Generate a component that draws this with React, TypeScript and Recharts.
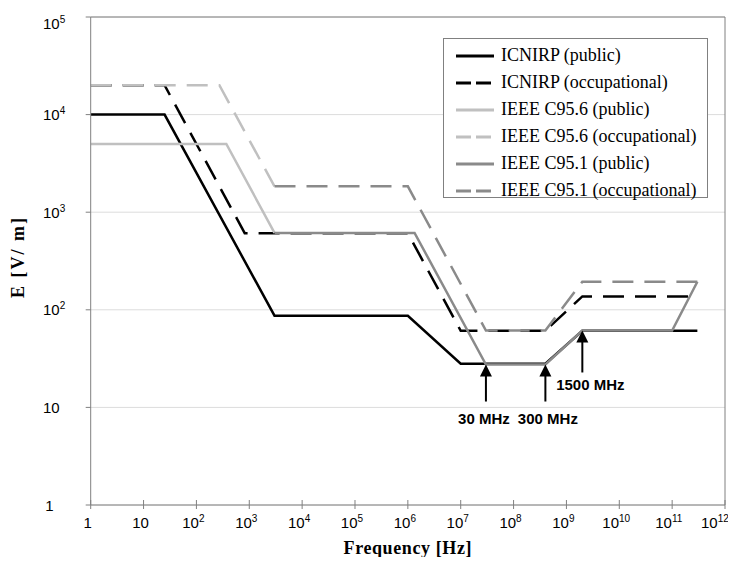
import React from 'react';
import {
  LineChart,
  Line,
  XAxis,
  YAxis,
  CartesianGrid,
  ReferenceLine,
  ReferenceDot,
  Legend,
} from 'recharts';

// ---- data (frequency in Hz, field strength E in V/m) ----
const ICNIRP_PUBLIC = [
  { f: 1, e: 10000 },
  { f: 25, e: 10000 },
  { f: 3000, e: 87 },
  { f: 1e6, e: 87 },
  { f: 1e7, e: 28 },
  { f: 4e8, e: 28 },
  { f: 2e9, e: 61 },
  { f: 3e11, e: 61 },
];
const ICNIRP_OCC = [
  { f: 1, e: 20000 },
  { f: 25, e: 20000 },
  { f: 820, e: 610 },
  { f: 1e6, e: 610 },
  { f: 1e7, e: 61 },
  { f: 4e8, e: 61 },
  { f: 2e9, e: 137 },
  { f: 3e11, e: 137 },
];
const C956_PUBLIC = [
  { f: 1, e: 5000 },
  { f: 368, e: 5000 },
  { f: 3000, e: 614 },
];
const C956_OCC = [
  { f: 1, e: 20000 },
  { f: 272, e: 20000 },
  { f: 3000, e: 1842 },
];
const C951_PUBLIC = [
  { f: 3000, e: 614 },
  { f: 1.34e6, e: 614 },
  { f: 3e7, e: 27.5 },
  { f: 4e8, e: 27.5 },
  { f: 2e9, e: 61.4 },
  { f: 1e11, e: 61.4 },
  { f: 3e11, e: 194 },
];
const C951_OCC = [
  { f: 3000, e: 1842 },
  { f: 1e6, e: 1842 },
  { f: 3e7, e: 61.4 },
  { f: 4e8, e: 61.4 },
  { f: 2e9, e: 194 },
  { f: 3e11, e: 194 },
];

const SERIES_NAMES = [
  'ICNIRP (public)',
  'ICNIRP (occupational)',
  'IEEE C95.6 (public)',
  'IEEE C95.6 (occupational)',
  'IEEE C95.1 (public)',
  'IEEE C95.1 (occupational)',
];
const SERIES_DATA = [ICNIRP_PUBLIC, ICNIRP_OCC, C956_PUBLIC, C956_OCC, C951_PUBLIC, C951_OCC];

const X_TICKS = [1, 1e1, 1e2, 1e3, 1e4, 1e5, 1e6, 1e7, 1e8, 1e9, 1e10, 1e11, 1e12];
const X_EXP_LABELS = ['', '', '2', '3', '4', '5', '6', '7', '8', '9', '10', '11', '12'];
const Y_TICKS = [1, 10, 100, 1000, 10000, 100000];
const Y_EXP_LABELS = ['', '', '2', '3', '4', '5'];

const ANNOTATIONS = [
  { f: 3e7, e: 27.5, label: '30 MHz' },
  { f: 4e8, e: 27.5, label: '300 MHz' },
  { f: 2e9, e: 61.4, label: '1500 MHz' },
];

// ---- styles ----
const BLACK = '#000000';
const LIGHT = '#c0c0c0';
const MID = '#8a8a8a';
const AXIS = '#808080';
const GRID = '#dcdcdc';
const SERIES_STYLE = [
  { color: BLACK, dash: undefined },
  { color: BLACK, dash: '21 11' },
  { color: LIGHT, dash: undefined },
  { color: LIGHT, dash: '21 11' },
  { color: MID, dash: undefined },
  { color: MID, dash: '21 11' },
];
const LEGEND_DASH = '15 5';
const ANNOT_STYLE = [
  { len: 37, dx: -2, dy: 59 },
  { len: 37, dx: 2.5, dy: 59 },
  { len: 42, dx: 8, dy: 60 },
];

const SANS = '"Liberation Sans", Arial, sans-serif';
const SERIF = '"Liberation Serif", "Times New Roman", serif';

const expOf = (v: number) => Math.round(Math.log10(v));

const XTick = (props: any) => {
  const { x, y, payload } = props;
  const exp = expOf(payload.value);
  const baseY = y + 23;
  const line = <line x1={x} x2={x} y1={y - 5} y2={y + 4} stroke={AXIS} strokeWidth={1} />;
  if (exp <= 1) {
    return (
      <g>
        {line}
        <text x={x - 3} y={baseY} textAnchor="middle" fontFamily={SANS} fontSize={15} fill="#000">
          {exp === 0 ? '1' : '10'}
        </text>
      </g>
    );
  }
  const sup = X_EXP_LABELS[exp];
  const total = 16.7 + sup.length * 5.56;
  const start = exp >= 12 ? x - 24 : x - 3 - total / 2;
  return (
    <g>
      {line}
      <text x={start} y={baseY} textAnchor="start" fontFamily={SANS} fontSize={15} fill="#000">
        10
        <tspan dy={-6} fontSize={10}>
          {sup}
        </tspan>
      </text>
    </g>
  );
};

const YTick = (props: any) => {
  const { x, y, payload } = props;
  const exp = expOf(payload.value);
  const dy = exp === 5 ? 6 : 0;
  const baseY = y + 5.5 + dy;
  if (exp === 0) {
    return (
      <text x={x - 36.2} y={baseY} textAnchor="middle" fontFamily={SANS} fontSize={15} fill="#000">
        1
      </text>
    );
  }
  const start = x - 42.7;
  return (
    <text x={start} y={baseY} textAnchor="start" fontFamily={SANS} fontSize={15} fill="#000">
      10
      {exp > 1 && (
        <tspan dy={-6} fontSize={10}>
          {Y_EXP_LABELS[exp]}
        </tspan>
      )}
    </text>
  );
};

const LegendBox = () => (
  <div
    style={{
      boxSizing: 'border-box',
      width: 265,
      height: 160,
      border: `1px solid ${AXIS}`,
      background: '#fff',
      paddingTop: 3,
      paddingLeft: 11,
      fontFamily: SERIF,
      fontSize: 18,
      color: '#000',
    }}
  >
    {SERIES_NAMES.map((name, i) => (
      <div key={name} style={{ display: 'flex', alignItems: 'center', height: 27, whiteSpace: 'nowrap' }}>
        <svg width={40} height={8} style={{ display: 'block', flex: 'none' }}>
          <line
            x1={1}
            x2={39}
            y1={4}
            y2={4}
            stroke={SERIES_STYLE[i].color}
            strokeWidth={3}
            strokeDasharray={SERIES_STYLE[i].dash ? LEGEND_DASH : undefined}
          />
        </svg>
        <span style={{ marginLeft: 6, lineHeight: '27px' }}>{name}</span>
      </div>
    ))}
  </div>
);

const makeArrow = (i: number) => (props: any) => {
  const { cx, cy } = props;
  const s = ANNOT_STYLE[i];
  return (
    <g>
      <line x1={cx} x2={cx} y1={cy + 10} y2={cy + s.len} stroke="#000" strokeWidth={2} />
      <polygon points={`${cx},${cy} ${cx - 6},${cy + 12} ${cx + 6},${cy + 12}`} fill="#000" />
      <text
        x={cx + s.dx}
        y={cy + s.dy}
        textAnchor="middle"
        fontFamily={SANS}
        fontWeight="bold"
        fontSize={15}
        fill="#000"
      >
        {ANNOTATIONS[i].label}
      </text>
    </g>
  );
};

export default function App() {
  return (
    <div style={{ width: 728, height: 549, overflow: 'visible' }}>
      <LineChart
        width={728}
        height={549}
        margin={{ top: 9, right: 11, bottom: 0, left: 0 }}
        style={{ overflow: 'visible' }}
      >
        <CartesianGrid horizontal vertical={false} stroke={GRID} />
        <XAxis
          type="number"
          dataKey="f"
          scale="log"
          domain={[1, 1e12]}
          ticks={X_TICKS}
          interval={0}
          allowDataOverflow
          height={52}
          stroke={AXIS}
          tickLine={false}
          tickSize={0}
          tickMargin={0}
          tick={<XTick />}
          label={{
            content: (p: any) => {
              const vb = p.viewBox || {};
              return (
                <text
                  x={vb.x + vb.width / 2}
                  y={vb.y + 49}
                  textAnchor="middle"
                  fontFamily={SERIF}
                  fontWeight="bold"
                  fontSize={18}
                  letterSpacing={0.6}
                  fill="#000"
                >
                  Frequency [Hz]
                </text>
              );
            },
          }}
        />
        <YAxis
          type="number"
          dataKey="e"
          scale="log"
          domain={[1, 1e5]}
          ticks={Y_TICKS}
          interval={0}
          allowDataOverflow
          width={82.7}
          stroke={AXIS}
          tickSize={5}
          tickMargin={0}
          tickLine={{ stroke: AXIS }}
          tick={<YTick />}
          label={{
            content: () => (
              <text
                x={0}
                y={0}
                transform="translate(16, 249) rotate(-90)"
                textAnchor="middle"
                fontFamily={SERIF}
                fontWeight="bold"
                fontSize={18}
                letterSpacing={2}
                fill="#000"
              >
                E [V/ m]
              </text>
            ),
          }}
        />
        <ReferenceLine y={1e5} stroke={AXIS} strokeWidth={1} />
        <ReferenceLine x={1e12} stroke={AXIS} strokeWidth={1} />
        {SERIES_DATA.map((d, i) => (
          <Line
            key={SERIES_NAMES[i]}
            data={d}
            dataKey="e"
            name={SERIES_NAMES[i]}
            type="linear"
            stroke={SERIES_STYLE[i].color}
            strokeWidth={2.5}
            strokeDasharray={SERIES_STYLE[i].dash}
            dot={false}
            activeDot={false}
            isAnimationActive={false}
            legendType="line"
          />
        ))}
        {ANNOTATIONS.map((a, i) => (
          <ReferenceDot key={a.label} x={a.f} y={a.e} r={0} shape={makeArrow(i)} />
        ))}
        <Legend
          layout="vertical"
          align="center"
          verticalAlign="middle"
          content={() => <LegendBox />}
          wrapperStyle={{ left: 435, top: 30, width: 265, height: 160 }}
        />
      </LineChart>
    </div>
  );
}
